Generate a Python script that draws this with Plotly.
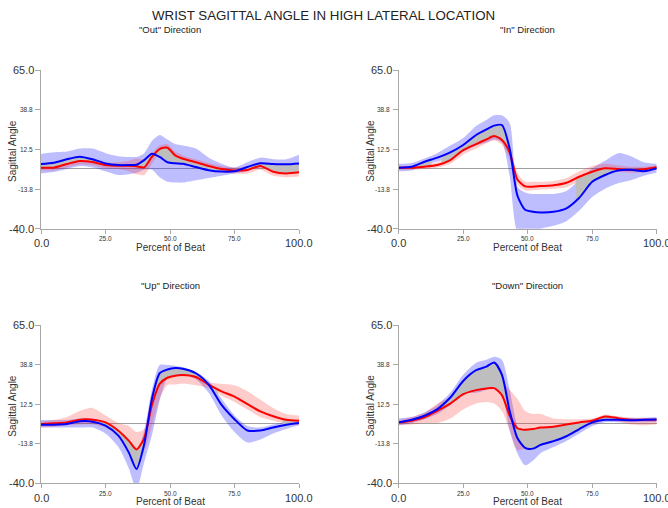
import numpy as np
import plotly.graph_objects as go

# ---------------------------------------------------------------------------
# Wrist sagittal angle (degrees) over the beat, two groups (blue / red),
# mean curve plus a lower/upper band for each, four movement directions.
# ---------------------------------------------------------------------------
pct = [0, 5, 10, 15, 20, 25, 30, 34, 37, 40, 43, 46, 49, 52, 55, 60, 65, 70, 75, 80, 85, 90, 95, 100]

# "Out" direction
out_blue_mean = [2.8, 3.7, 5.9, 7.6, 5.9, 3.2, 2.1, 2.1, 2.3, 5.4, 9.6, 7.5, 4.0, 3.3, 3.0, 0.8, -1.3, -2.2, -2.0, 0.8, 3.3, 2.8, 2.6, 3.2]
out_red_mean = [0.4, 0.4, 2.8, 4.8, 4.1, 2.1, 1.6, 1.6, 1.4, 0.6, 7.6, 12.7, 13.6, 8.5, 6.3, 4.0, 1.5, -0.5, -1.5, -1.1, 1.5, -2.3, -3.4, -2.7]
out_blue_lo = [-3.4, -2.5, -0.5, 1.5, 0.5, -2.0, -4.5, -4.0, -3.0, -1.0, -1.0, -6.0, -9.0, -9.5, -9.5, -8.0, -6.5, -5.0, -3.5, -2.0, 0.5, -0.5, -1.5, -2.5]
out_blue_hi = [9.4, 10.5, 11.0, 13.0, 13.0, 10.0, 8.0, 7.5, 7.5, 10.0, 18.0, 22.0, 19.0, 16.0, 15.0, 13.0, 7.0, 3.0, 0.5, 4.0, 7.0, 6.0, 6.0, 9.0]
out_red_lo = [-1.5, -1.5, 0.5, 2.5, 2.0, 0.0, -0.5, -2.0, -4.0, -4.5, 3.0, 10.0, 11.0, 6.5, 4.0, 2.0, -0.5, -2.5, -3.5, -3.5, -1.0, -5.0, -6.0, -5.5]
out_red_hi = [2.5, 2.5, 5.0, 7.0, 6.5, 4.0, 4.0, 5.0, 6.5, 6.0, 10.0, 15.0, 16.0, 11.0, 8.5, 6.0, 3.5, 1.5, 0.5, 1.0, 4.0, 0.0, -1.0, -0.5]

# "In" direction
in_blue_mean = [0.4, 1.0, 4.3, 7.0, 10.5, 15.4, 22.0, 25.7, 28.2, 28.6, 13.0, -18.0, -27.5, -28.8, -29.2, -28.8, -26.5, -19.5, -9.0, -4.5, -1.5, -1.0, -2.0, 0.0]
in_red_mean = [0.4, 0.4, 1.0, 2.1, 5.4, 12.0, 16.0, 19.1, 21.3, 18.7, 10.5, -7.5, -12.0, -12.2, -11.8, -11.3, -9.6, -5.6, -2.3, 0.0, -0.5, -1.2, -0.7, 0.6]
in_blue_lo = [-2.0, -1.5, 2.0, 4.5, 7.0, 11.0, 15.0, 17.0, 19.0, 17.0, -5.0, -42.0, -45.0, -43.0, -40.0, -38.0, -35.0, -28.0, -19.0, -13.5, -10.0, -8.0, -5.0, -3.0]
in_blue_hi = [3.0, 3.5, 6.5, 10.0, 15.0, 20.0, 28.0, 32.0, 35.0, 35.0, 30.0, -12.0, -16.0, -17.0, -17.0, -17.0, -15.0, -8.0, 0.0, 5.0, 10.0, 8.0, 4.0, 3.0]
in_red_lo = [-1.0, -1.0, -0.5, 0.5, 3.0, 9.0, 13.0, 16.5, 18.5, 15.5, 6.0, -11.0, -14.5, -14.5, -14.0, -13.5, -12.5, -9.0, -6.0, -2.0, -2.5, -3.0, -2.5, -1.0]
in_red_hi = [1.5, 1.5, 2.5, 4.0, 8.0, 14.5, 18.0, 21.5, 23.5, 21.5, 14.0, -3.0, -9.0, -9.0, -9.0, -8.5, -6.5, -2.0, 1.5, 3.0, 2.0, 1.0, 1.0, 2.0]

# "Up" direction
up_blue_mean = [-1.1, -1.1, -0.7, 1.1, 0.9, -1.8, -8.4, -19.5, -30.5, -14.0, 16.0, 33.0, 35.5, 36.5, 36.0, 33.0, 25.5, 12.0, 2.5, -5.0, -5.0, -3.0, -1.2, 0.0]
up_red_mean = [-0.7, -0.2, 0.4, 2.2, 2.2, 0.4, -5.1, -11.7, -17.5, -10.0, 12.0, 26.0, 30.0, 31.4, 31.8, 30.5, 25.5, 21.0, 17.5, 12.5, 7.7, 4.5, 2.2, 1.5]
up_blue_lo = [-3.0, -3.0, -3.0, -3.0, -3.0, -7.0, -16.0, -30.0, -44.0, -26.0, -8.0, 15.0, 30.0, 33.0, 32.0, 29.0, 20.0, 5.0, -6.0, -13.0, -11.0, -7.0, -4.0, -1.5]
up_blue_hi = [2.0, 2.0, 2.0, 3.0, 3.0, 0.0, -5.0, -13.0, -20.0, -5.0, 22.0, 38.5, 38.5, 38.0, 37.0, 34.0, 28.0, 16.0, 5.0, -2.0, -3.0, -1.0, 0.5, 1.0]
up_red_lo = [-3.0, -2.5, -1.5, -1.0, -1.0, -3.0, -9.0, -16.0, -22.0, -18.0, -2.0, 16.0, 25.0, 25.5, 26.0, 25.0, 23.0, 18.0, 14.0, 9.0, 4.0, 1.5, -0.5, -1.5]
up_red_hi = [1.0, 2.0, 4.0, 8.0, 10.0, 5.0, 0.0, -2.0, -6.0, -4.0, 20.0, 30.0, 33.0, 33.5, 34.0, 32.0, 27.0, 26.0, 25.0, 21.0, 15.5, 10.0, 6.0, 5.0]

# "Down" direction
down_blue_mean = [0.4, 2.1, 4.8, 9.2, 16.9, 27.9, 35.0, 37.4, 40.1, 32.0, 8.0, -10.0, -16.5, -17.0, -14.5, -12.0, -8.8, -4.0, 0.4, 2.1, 2.1, 1.9, 2.1, 2.3]
down_red_mean = [0.4, 1.5, 3.7, 8.1, 12.9, 19.1, 21.8, 22.9, 23.1, 18.5, 5.0, -3.5, -4.5, -4.0, -3.0, -2.5, -1.0, 0.4, 1.5, 4.3, 3.2, 2.1, 2.1, 2.1]
down_blue_lo = [-1.5, 0.0, 2.5, 6.0, 12.0, 20.0, 20.0, 22.0, 25.0, 20.0, -5.0, -20.0, -28.0, -25.0, -20.0, -16.0, -12.0, -7.0, -2.0, 0.5, 0.5, 0.5, 0.5, 0.5]
down_blue_hi = [3.0, 4.0, 7.0, 12.0, 20.0, 32.0, 40.0, 42.0, 44.0, 42.0, 22.0, -2.0, -12.0, -12.0, -9.0, -7.0, -3.0, -1.0, 2.5, 4.0, 3.5, 3.5, 3.5, 4.0]
down_red_lo = [-1.5, -1.0, 0.0, 0.0, 3.0, 9.0, 13.0, 14.0, 13.0, 8.0, -5.0, -18.0, -17.0, -14.0, -12.0, -9.0, -6.0, -2.0, -1.0, 2.0, 1.0, -1.0, -1.5, -1.0]
down_red_hi = [2.0, 4.0, 7.0, 13.0, 17.0, 22.0, 26.0, 28.0, 29.0, 27.0, 22.0, 16.0, 8.0, 6.0, 6.0, 3.0, 2.5, 2.5, 3.0, 5.5, 4.5, 3.5, 3.0, 3.0]

panel_titles = ['"Out" Direction', '"In" Direction', '"Up" Direction', '"Down" Direction']
main_title = "WRIST SAGITTAL ANGLE IN HIGH LATERAL LOCATION"
x_title = "Percent of Beat"
y_title = "Sagittal Angle"

x_tick_vals = [0, 25, 50, 75, 100]
x_tick_text = ["0.0", "25.0", "50.0", "75.0", "100.0"]
y_tick_vals = [-40, -13.75, 12.5, 38.75, 65]
y_tick_text = ["-40.0", "-13.8", "12.5", "38.8", "65.0"]

panels = [
    dict(bm=out_blue_mean, rm=out_red_mean, bl=out_blue_lo, bh=out_blue_hi, rl=out_red_lo, rh=out_red_hi),
    dict(bm=in_blue_mean, rm=in_red_mean, bl=in_blue_lo, bh=in_blue_hi, rl=in_red_lo, rh=in_red_hi),
    dict(bm=up_blue_mean, rm=up_red_mean, bl=up_blue_lo, bh=up_blue_hi, rl=up_red_lo, rh=up_red_hi),
    dict(bm=down_blue_mean, rm=down_red_mean, bl=down_blue_lo, bh=down_blue_hi, rl=down_red_lo, rh=down_red_hi),
]

# ---------------------------------------------------------------------------
# Styling
# ---------------------------------------------------------------------------
FONT = "Arial, Liberation Sans, sans-serif"
BLUE = "#0000ff"
RED = "#ff0000"
BLUE_BAND = "rgba(40,40,255,0.30)"
RED_BAND = "rgba(255,40,40,0.24)"
OVERLAP = "rgb(190,190,190)"
AXIS = "#a8a8a8"
TEXT = "#333333"
SMOOTH = 0.7

x_domains = [[41 / 668, 299 / 668], [398.7 / 668, 656.7 / 668]]
y_domains = [[1 - 228.7 / 508, 1 - 70 / 508], [1 - 483.3 / 508, 1 - 325 / 508]]


def overlap_runs(x, bl, bh, rl, rh, bm, rm):
    """Stretches where the two bands overlap, as (x, red mean, blue mean) lists.
    Run ends are placed where the overlap width reaches zero."""
    x = np.asarray(x, float)
    bl, bh, rl, rh = map(lambda a: np.asarray(a, float), (bl, bh, rl, rh))
    bm, rm = np.asarray(bm, float), np.asarray(rm, float)
    d = np.minimum(bh, rh) - np.maximum(bl, rl)

    def cross(i):
        t = d[i - 1] / (d[i - 1] - d[i])
        return (x[i - 1] + t * (x[i] - x[i - 1]),
                rm[i - 1] + t * (rm[i] - rm[i - 1]),
                bm[i - 1] + t * (bm[i] - bm[i - 1]))

    runs, cur = [], None
    for i in range(len(x)):
        if d[i] >= 0:
            if cur is None:
                cur = ([], [], [])
                if i > 0:
                    cx, cr, cb = cross(i)
                    cur[0].append(cx); cur[1].append(cr); cur[2].append(cb)
            cur[0].append(x[i]); cur[1].append(rm[i]); cur[2].append(bm[i])
        elif cur is not None:
            cx, cr, cb = cross(i)
            cur[0].append(cx); cur[1].append(cr); cur[2].append(cb)
            runs.append(cur)
            cur = None
    if cur is not None:
        runs.append(cur)
    return runs


fig = go.Figure()
annotations = []
layout_axes = {}

for k, p in enumerate(panels):
    n = "" if k == 0 else str(k + 1)
    xa, ya = "x" + n, "y" + n
    common = dict(xaxis=xa, yaxis=ya, showlegend=False, hoverinfo="skip")
    spl = dict(shape="spline", smoothing=SMOOTH)

    # bands
    for lo, hi, col in ((p["bl"], p["bh"], BLUE_BAND), (p["rl"], p["rh"], RED_BAND)):
        fig.add_trace(go.Scatter(x=pct, y=lo, mode="lines", line=dict(width=0, **spl), **common))
        fig.add_trace(go.Scatter(x=pct, y=hi, mode="lines", line=dict(width=0, **spl),
                                 fill="tonexty", fillcolor=col, **common))

    # grey region between the means where the bands overlap
    for rx, rr, rb in overlap_runs(pct, p["bl"], p["bh"], p["rl"], p["rh"], p["bm"], p["rm"]):
        fig.add_trace(go.Scatter(x=rx + rx[::-1], y=rr + rb[::-1], mode="lines",
                                 line=dict(width=0, **spl), fill="toself",
                                 fillcolor=OVERLAP, **common))

    # mean curves
    fig.add_trace(go.Scatter(x=pct, y=p["rm"], mode="lines",
                             line=dict(color=RED, width=2, **spl), **common))
    fig.add_trace(go.Scatter(x=pct, y=p["bm"], mode="lines",
                             line=dict(color=BLUE, width=2, **spl), **common))

    col, row = k % 2, k // 2
    axis_style = dict(showgrid=False, showline=True, linecolor=AXIS, linewidth=1,
                      ticks="outside", tickcolor=AXIS, tickwidth=1,
                      showticklabels=False, fixedrange=True)
    layout_axes["xaxis" + n] = dict(domain=x_domains[col], anchor=ya, range=[0, 100],
                                    tickvals=x_tick_vals, ticklen=4, zeroline=False,
                                    **axis_style)
    layout_axes["yaxis" + n] = dict(domain=y_domains[row], anchor=xa, range=[-40, 65],
                                    tickvals=y_tick_vals, ticklen=5, zeroline=True,
                                    zerolinecolor="#a0a0a0", zerolinewidth=1, **axis_style)

    # tick labels: end values larger than the interior ones
    last = len(x_tick_vals) - 1
    for i, (v, t) in enumerate(zip(x_tick_vals, x_tick_text)):
        big = i in (0, last)
        annotations.append(dict(text=t, x=v, xref=xa, y=0, yref=ya + " domain",
                                xanchor="center", yanchor="middle",
                                yshift=-14.5 if big else -10, showarrow=False,
                                font=dict(family=FONT, size=11 if big else 6.5, color=TEXT)))
    last = len(y_tick_vals) - 1
    for i, (v, t) in enumerate(zip(y_tick_vals, y_tick_text)):
        big = i in (0, last)
        annotations.append(dict(text=t, x=0, xref=xa + " domain", y=v, yref=ya,
                                xanchor="right", yanchor="middle",
                                xshift=-5 if big else -6.5, showarrow=False,
                                font=dict(family=FONT, size=11 if big else 6.5, color=TEXT)))

    # axis titles and panel title
    annotations.append(dict(text=x_title, x=0.5, xref=xa + " domain", y=0, yref=ya + " domain",
                            xanchor="center", yanchor="middle", yshift=-18.5, showarrow=False,
                            font=dict(family=FONT, size=10, color=TEXT)))
    annotations.append(dict(text=y_title, x=0, xref=xa + " domain", y=0.49, yref=ya + " domain",
                            xanchor="center", yanchor="middle", xshift=-28, textangle=-90,
                            showarrow=False, font=dict(family=FONT, size=10, color=TEXT)))
    annotations.append(dict(text=panel_titles[k], x=0.5, xref=xa + " domain", y=1,
                            yref=ya + " domain", xanchor="center", yanchor="middle",
                            yshift=40, showarrow=False,
                            font=dict(family=FONT, size=9.5, color="#222222")))

annotations.append(dict(text=main_title, x=323 / 668, xref="paper", y=1 - 15.5 / 508,
                        yref="paper", xanchor="center", yanchor="middle", showarrow=False,
                        font=dict(family=FONT, size=13.3, color="#222222")))

fig.update_layout(
    width=668, height=508, autosize=False,
    margin=dict(l=0, r=0, t=0, b=0),
    paper_bgcolor="white", plot_bgcolor="white",
    showlegend=False,
    annotations=annotations,
    **layout_axes,
)

fig.write_html("out.html")
